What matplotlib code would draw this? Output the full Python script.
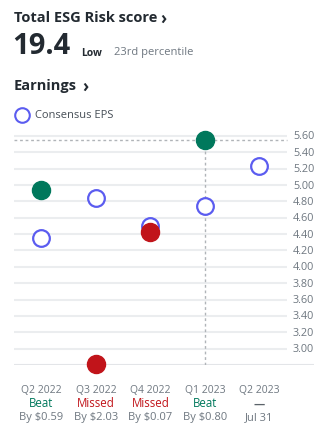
import numpy as np
import matplotlib
matplotlib.use('Agg')
import matplotlib.pyplot as plt

plt.rcParams['font.family'] = ['Open Sans', 'DejaVu Sans']

quarters = ['Q2 2022', 'Q3 2022', 'Q4 2022', 'Q1 2023', 'Q2 2023']
consensus = [4.35, 4.84, 4.50, 4.75, 5.23]
actual = [4.94, 2.81, 4.43, 5.55, np.nan]
results = ['Beat', 'Missed', 'Missed', 'Beat', '—']
diffs = ['By $0.59', 'By $2.03', 'By $0.07', 'By $0.80', 'Jul 31']
yticks = [3.00, 3.20, 3.40, 3.60, 3.80, 4.00, 4.20, 4.40, 4.60, 4.80,
          5.00, 5.20, 5.40, 5.60]

green = '#00785c'
red = '#c1141a'
blue = '#5b5cf0'
gray = '#6e7780'
dark = '#232a31'

W, H = 322, 435
fig = plt.figure(figsize=(W / 100, H / 100), dpi=100)

# header text
fig.text(14 / W, 1 - 18 / H, 'Total ESG Risk score', fontsize=10.5, fontweight='bold',
         color=dark, va='center')
fig.text(160 / W, 1 - 19 / H, '›', fontsize=12, fontweight='bold', color=dark, va='center')
fig.text(12 / W, 1 - 47 / H, '19.4', fontsize=21, fontweight='bold', color=dark, va='center')
fig.text(81 / W, 1 - 53 / H, 'Low', fontsize=7.5, fontweight='bold', color=dark, va='center')
fig.text(114 / W, 1 - 53 / H, '23rd percentile', fontsize=8, color=gray, va='center')
fig.text(14 / W, 1 - 86 / H, 'Earnings', fontsize=10.5, fontweight='bold', color=dark,
         va='center')
fig.text(82 / W, 1 - 87 / H, '›', fontsize=12, fontweight='bold', color=dark, va='center')
fig.text(35 / W, 1 - 116 / H, 'Consensus EPS', fontsize=8, color='#464e56', va='center')
fig.lines.append(plt.Line2D([22 / W], [1 - 116 / H], marker='o', markersize=10.5,
                            markerfacecolor='white', markeredgecolor=blue,
                            markeredgewidth=1.5, transform=fig.transFigure))

ax = fig.add_axes([14 / W, 1 - 366 / H, 300 / W, 238 / H])
ax.set_xlim(-0.5, 5.0)
ax.set_ylim(2.80, 5.71)
ax.axis('off')

gx = (287 - 14) / 300
ax.hlines(yticks, 0, gx, transform=ax.get_yaxis_transform(), color='#ebedef', lw=1.5, zorder=0)
ax.hlines([2.80], 0, 1, transform=ax.get_yaxis_transform(), color='#e3e5e8', lw=1.5, zorder=0)
for v in yticks:
    ax.text(gx + 0.02, v, f'{v:.2f}', transform=ax.get_yaxis_transform(), fontsize=7.8,
            color=gray, va='center', ha='left')

# crosshair on Q1 2023
ax.plot([-0.5, 4.5], [actual[3], actual[3]], color='#b0b4b8', lw=1, ls=(0, (2, 2)), zorder=1)
ax.plot([3, 3], [2.80, actual[3]], color='#b0b4b8', lw=1, ls=(0, (2, 2)), zorder=1)

x = np.arange(len(quarters))
ax.plot(x, consensus, 'o', markersize=12, markerfacecolor='white', markeredgecolor=blue,
        markeredgewidth=1.6, ls='none', zorder=3, clip_on=False)
colors = [green if r == 'Beat' else red for r in results]
for xi, a, c in zip(x, actual, colors):
    if not np.isnan(a):
        ax.plot(xi, a, 'o', markersize=13, color=c, zorder=4, clip_on=False)

for xi, q, r, d, c in zip(x, quarters, results, diffs, colors):
    ax.text(xi, 2.80 - 25 / 81.8, q, fontsize=7.5, color=gray, ha='center', va='center')
    if r == '—':
        ax.text(xi, 2.80 - 38 / 81.8, r, fontsize=8, color='#5b636a', fontweight='bold',
                ha='center', va='center')
    else:
        ax.text(xi, 2.80 - 38 / 81.8, r, fontsize=8.3, color=c, ha='center', va='center')
    ax.text(xi, 2.80 - 52 / 81.8, d, fontsize=8, color=gray, ha='center', va='center')

fig.savefig('out.png', dpi=100)
